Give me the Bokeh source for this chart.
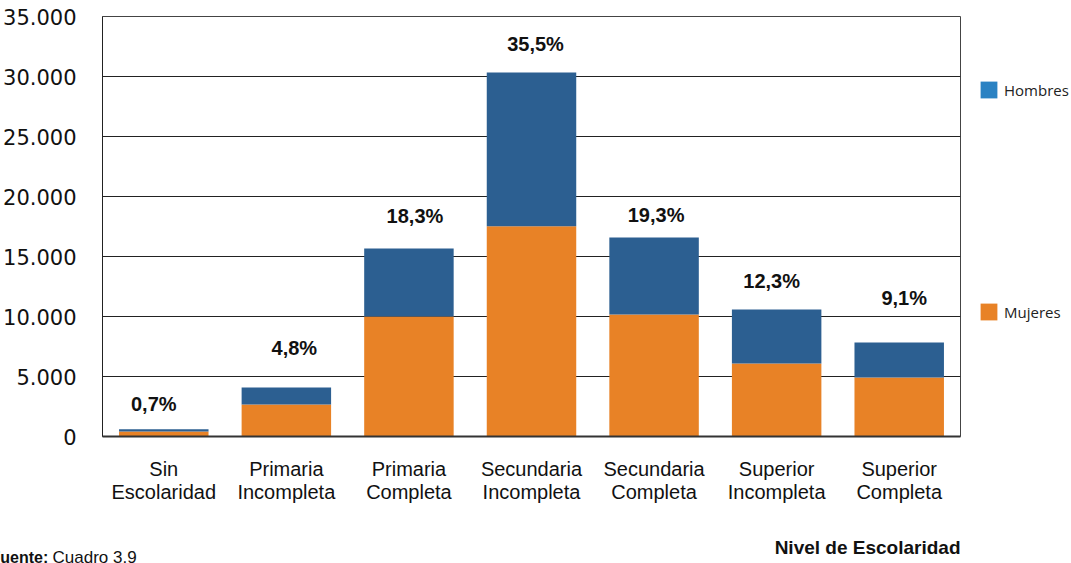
from bokeh.plotting import figure
from bokeh.models import (ColumnDataSource, FactorRange, Range1d, FixedTicker, Legend,
                          LegendItem, Label, Title)
from bokeh.core.properties import value
from bokeh.embed import file_html
from bokeh.resources import INLINE

categories = ["Sin\nEscolaridad", "Primaria\nIncompleta", "Primaria\nCompleta",
              "Secundaria\nIncompleta", "Secundaria\nCompleta", "Superior\nIncompleta",
              "Superior\nCompleta"]
mujeres = [420, 2670, 10000, 17520, 10170, 6080, 4920]
hombres = [180, 1410, 5670, 12810, 6410, 4500, 2910]
porcentajes = ["0,7%", "4,8%", "18,3%", "35,5%", "19,3%", "12,3%", "9,1%"]
y_ticks = [0, 5000, 10000, 15000, 20000, 25000, 30000, 35000]
y_tick_labels = ["0", "5.000", "10.000", "15.000", "20.000", "25.000", "30.000", "35.000"]

# label placement (pixels), style only
label_dy = [-25, -40, -32, -29, -23, -29, -45]
label_dx = [-10, 8, 6, 4, 2, -5, 5]

BLUE = "#2C5F91"
ORANGE = "#E88226"
LEG_BLUE = "#2A82C3"
FONT = "Liberation Sans"

totals = [m + h for m, h in zip(mujeres, hombres)]
src = ColumnDataSource(dict(cat=categories, mujeres=mujeres, hombres=hombres,
                            total=totals, pct=porcentajes, dy=label_dy, dx=label_dx))

p = figure(width=1071, height=563, x_range=FactorRange(*categories, range_padding=0),
           y_range=Range1d(0, 35000), output_backend="svg", toolbar_location=None,
           min_border_left=100, min_border_right=113, min_border_top=16, min_border_bottom=127)
p.frame_width = 858
p.frame_height = 420

p.vbar_stack(["mujeres", "hombres"], x="cat", width=0.73, color=[ORANGE, BLUE],
             line_color=None, source=src)

p.text(x="cat", y="total", text="pct", source=src, x_offset="dx", y_offset="dy",
       text_align="center", text_baseline="middle", text_font=value(FONT),
       text_font_style="bold", text_font_size="20px", text_color="#111111")

# legend swatches (zero-height bars, invisible in the plot)
rh = p.vbar(x=[categories[0]], bottom=[0], top=[0], width=0.01,
            fill_color=LEG_BLUE, line_color=None)
rm = p.vbar(x=[categories[0]], bottom=[0], top=[0], width=0.01,
            fill_color=ORANGE, line_color=None)
legend = Legend(items=[LegendItem(label="Hombres", renderers=[rh]),
                       LegendItem(label="Mujeres", renderers=[rm])],
                location=(18, 114), padding=0, margin=0, spacing=201,
                glyph_width=21, glyph_height=21, label_height=17, label_standoff=5,
                label_text_font="Open Sans", label_text_font_size="15px",
                label_text_color="#222222", border_line_color=None,
                background_fill_alpha=0)
p.add_layout(legend, "right")

# axes
p.yaxis.ticker = FixedTicker(ticks=y_ticks)
p.yaxis.major_label_overrides = {t: l for t, l in zip(y_ticks, y_tick_labels)}
p.yaxis.major_tick_line_color = None
p.yaxis.minor_tick_line_color = None
p.yaxis.major_label_standoff = 20
p.yaxis.major_label_text_font = "DejaVu Sans"
p.yaxis.major_label_text_font_size = "21px"
p.yaxis.major_label_text_color = "#111111"
p.yaxis.axis_line_color = "#222222"

p.xaxis.major_tick_line_color = None
p.xaxis.major_label_standoff = 15
p.xaxis.major_label_text_font = FONT
p.xaxis.major_label_text_font_size = "20px"
p.xaxis.major_label_text_color = "#111111"
p.xaxis.major_label_text_line_height = 1.05
p.xaxis.axis_line_color = "#333333"
p.xaxis.axis_line_width = 2

p.xgrid.grid_line_color = None
p.ygrid.ticker = FixedTicker(ticks=y_ticks)
p.ygrid.grid_line_color = "#222222"
p.ygrid.grid_line_width = 1
p.outline_line_color = "#444444"
p.outline_line_width = 1

p.add_layout(Title(text="Nivel de Escolaridad", align="right", text_font=FONT,
                   text_font_style="bold", text_font_size="19px", text_color="#111111",
                   standoff=58), "below")
p.add_layout(Label(x=-10, y=557, x_units="canvas", y_units="canvas",
                   text="Fuente:", text_align="left", text_baseline="middle",
                   text_font=FONT, text_font_style="bold", text_font_size="16px",
                   text_color="#111111"), "below")
p.add_layout(Label(x=52, y=557, x_units="canvas", y_units="canvas",
                   text="Cuadro  3.9", text_align="left", text_baseline="middle",
                   text_font=FONT, text_font_size="17px", text_color="#111111"), "below")

open("out.html", "w").write(file_html(p, INLINE))
